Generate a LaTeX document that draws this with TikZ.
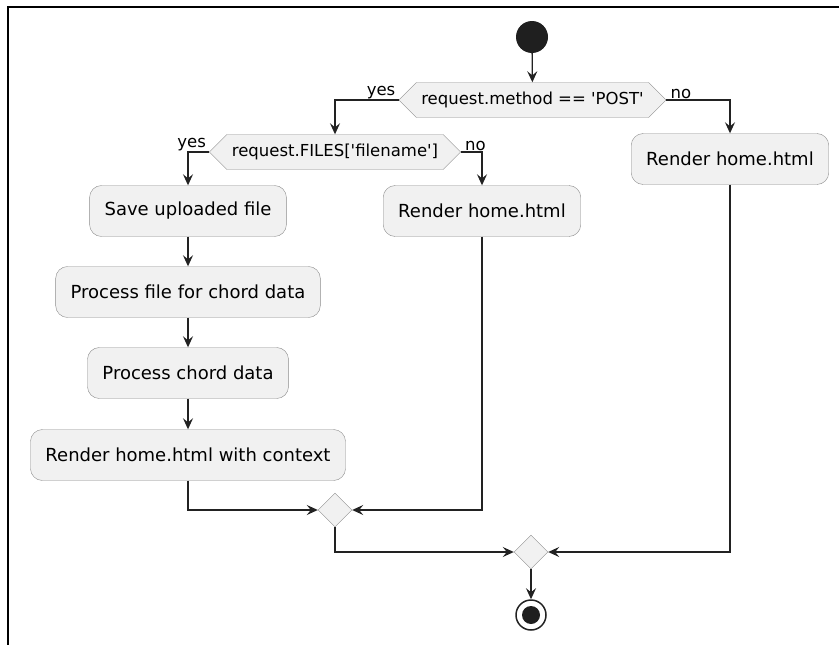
\documentclass[tikz,border=0pt]{standalone}
\usepackage{fontspec}
\setmainfont{DejaVu Sans}
\usetikzlibrary{arrows.meta,positioning,shapes.geometric,shapes.symbols}
\definecolor{actfill}{HTML}{F1F1F1}
\definecolor{actline}{HTML}{8C8C8C}
\definecolor{flowline}{HTML}{222222}
\begin{document}
\begin{tikzpicture}[x=1pt,y=-1pt,
  act/.style={rectangle,rounded corners=12pt,draw=actline,fill=actfill,minimum height=51pt,inner xsep=15pt,font=\fontsize{18}{21}\selectfont},
  cond/.style={signal,signal to=east and west,signal pointer angle=90,draw=actline,fill=actfill,minimum height=35pt,inner xsep=5pt,inner ysep=2pt,font=\fontsize{16.5}{19}\selectfont},
  merge/.style={diamond,draw=actline,fill=actfill,minimum width=34pt,minimum height=34pt,inner sep=0pt},
  lbl/.style={inner sep=1pt,font=\fontsize{16.5}{19}\selectfont},
  flow/.style={draw=flowline,line width=1.3pt,-{Stealth[length=11pt,width=10pt,inset=4pt]}}]
\useasboundingbox (0,0) rectangle (839,645);
\draw[line width=2pt] (8,645) -- (8,7) -- (839,7);
\node[circle,fill=black!88,minimum size=32pt,inner sep=0pt] (start) at (532,37) {};
\node[cond] (post) at (532.5,100) {request.method == \textquotesingle POST\textquotesingle};
\node[cond] (files) at (335,152) {request.FILES[\textquotesingle filename\textquotesingle]};
\node[act] (homeR) at (730,159) {Render home.html};
\node[act] (save) at (188,211) {Save uploaded file};
\node[act] (homeM) at (482,211) {Render home.html};
\node[act] (procfile) at (188,292) {Process file for chord data};
\node[act] (procchord) at (188,373) {Process chord data};
\node[act] (homectx) at (188,455) {Render home.html with context};
\node[merge] (m1) at (335,510) {};
\node[merge] (m2) at (531,552) {};
\node[circle,draw=flowline,line width=1.5pt,fill=white,minimum size=30pt,inner sep=0pt,
  path picture={\fill[black!88] (path picture bounding box.center) circle (9pt);}] (stop) at (531,615) {};
\node[lbl,anchor=south east] at ([xshift=-2pt]post.west) {yes};
\node[lbl,anchor=south west] at ([xshift=3pt]post.east) {no};
\node[lbl,anchor=south east] at ([xshift=-2pt]files.west) {yes};
\node[lbl,anchor=south west] at ([xshift=3pt]files.east) {no};
\draw[flow] (start) -- (post);
\draw[flow] (post.west) -| (files.north);
\draw[flow] (post.east) -| (homeR.north);
\draw[flow] (files.west) -| (save.north);
\draw[flow] (files.east) -| (homeM.north);
\draw[flow] (save) -- (procfile);
\draw[flow] (procfile) -- (procchord);
\draw[flow] (procchord) -- (homectx);
\draw[flow] (homectx.south) |- (m1.west);
\draw[flow] (homeM.south) |- (m1.east);
\draw[flow] (m1.south) |- (m2.west);
\draw[flow] (homeR.south) |- (m2.east);
\draw[flow] (m2) -- (stop);
\end{tikzpicture}
\end{document}
